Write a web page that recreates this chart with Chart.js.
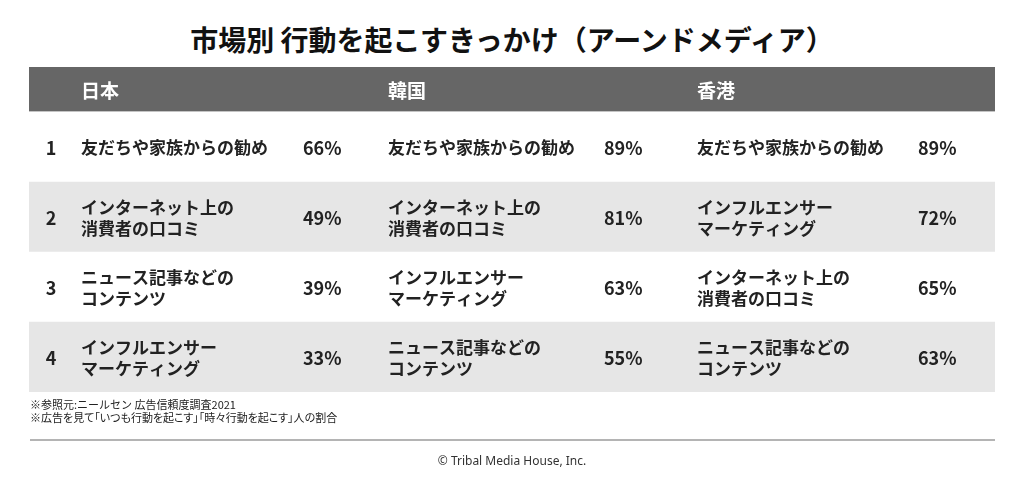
<!DOCTYPE html>
<html lang="ja">
<head>
<meta charset="utf-8">
<script src="https://cdn.jsdelivr.net/npm/chart.js@4.4.1/dist/chart.umd.min.js"></script>
<style>
  body { margin: 0; background: #fff; width: 1024px; height: 477px; overflow: hidden; position: relative;
         font-family: "Noto Sans CJK JP", sans-serif; color: #222; }
  #title { position: absolute; left: 0; top: 20px; width: 1024px; text-align: center;
           font-size: 28px; font-weight: 700; line-height: 38px; color: #111; }
  #chart { position: absolute; left: 0; top: 0; }
  .note { position: absolute; left: 30px; font-size: 11px; line-height: 13px; }
  #rule { position: absolute; left: 30px; width: 965px; top: 439px; height: 2px; background: #b4b4b4; }
  #copy { position: absolute; left: 0; width: 1024px; text-align: center; top: 452px;
          font: 12px "Noto Sans", sans-serif; color: #333; }
</style>
</head>
<body>
<div id="title">市場別 行動を起こすきっかけ（アーンドメディア）</div>
<canvas id="chart" width="1024" height="477"></canvas>
<div class="note" style="top:398px">※参照元:ニールセン 広告信頼度調査2021</div>
<div class="note" style="top:411px;font-feature-settings:'palt'">※広告を見て「いつも行動を起こす」「時々行動を起こす」人の割合</div>
<div id="rule"></div>
<div id="copy">© Tribal Media House, Inc.</div>

<script>
// --- data ---
const ranks = ['1', '2', '3', '4'];
const markets = ['日本', '韓国', '香港'];

const japanItems = ['友だちや家族からの勧め', 'インターネット上の\n消費者の口コミ', 'ニュース記事などの\nコンテンツ', 'インフルエンサー\nマーケティング'];
const japanValues = [66, 49, 39, 33];

const koreaItems = ['友だちや家族からの勧め', 'インターネット上の\n消費者の口コミ', 'インフルエンサー\nマーケティング', 'ニュース記事などの\nコンテンツ'];
const koreaValues = [89, 81, 63, 55];

const hongkongItems = ['友だちや家族からの勧め', 'インフルエンサー\nマーケティング', 'インターネット上の\n消費者の口コミ', 'ニュース記事などの\nコンテンツ'];
const hongkongValues = [89, 72, 65, 63];

const itemsByMarket = [japanItems, koreaItems, hongkongItems];
const valuesByMarket = [japanValues, koreaValues, hongkongValues];

// column offsets from the left edge of the table
const cols = [
  { item: 52, pct: 274 },
  { item: 359, pct: 575 },
  { item: 668, pct: 889 }
];
const HEADER_H = 45;
const FONT = '"Noto Sans CJK JP", sans-serif';

// draws header band + every cell text, rows placed by the y scale
const tablePlugin = {
  id: 'tableText',
  afterDatasetsDraw(chart) {
    const { ctx, chartArea: a, scales: { y } } = chart;
    ctx.save();

    // header band
    ctx.fillStyle = '#666666';
    ctx.fillRect(a.left, a.top - HEADER_H, a.right - a.left, HEADER_H);
    ctx.fillStyle = '#c4c4c4';
    ctx.fillRect(a.left, a.top - 1, a.right - a.left, 1);

    ctx.textBaseline = 'middle';
    ctx.fillStyle = '#ffffff';
    ctx.font = `bold 19px ${FONT}`;
    ctx.textAlign = 'left';
    markets.forEach((m, i) => ctx.fillText(m, a.left + cols[i].item, a.top - HEADER_H / 2 + 1));

    ctx.fillStyle = '#222222';
    ranks.forEach((r, row) => {
      const cy = y.getPixelForValue(row) + 1;
      ctx.font = `bold 18px ${FONT}`;
      ctx.textAlign = 'center';
      ctx.fillText(r, a.left + 22, cy);

      itemsByMarket.forEach((items, i) => {
        const lines = items[row].split('\n');
        ctx.font = `bold 17px ${FONT}`;
        ctx.textAlign = 'left';
        lines.forEach((ln, k) => {
          const off = (k - (lines.length - 1) / 2) * 21;
          ctx.fillText(ln, a.left + cols[i].item, cy + off);
        });
        ctx.font = `bold 18px ${FONT}`;
        ctx.fillText(valuesByMarket[i][row] + '%', a.left + cols[i].pct, cy);
      });
    });
    ctx.restore();
  }
};

new Chart(document.getElementById('chart'), {
  type: 'bar',
  data: {
    labels: ranks,
    datasets: [{
      data: ranks.map(() => [0, 1]),
      backgroundColor: ranks.map((_, i) => (i % 2 ? '#e6e6e6' : '#ffffff')),
      borderWidth: 0,
      barPercentage: 1,
      categoryPercentage: 1
    }]
  },
  options: {
    indexAxis: 'y',
    responsive: false,
    devicePixelRatio: 1,
    animation: false,
    layout: { padding: { left: 29, right: 29, top: 112, bottom: 85 } },
    scales: {
      x: { type: 'linear', min: 0, max: 1, display: false },
      y: { type: 'category', display: false }
    },
    plugins: { legend: { display: false }, tooltip: { enabled: false }, title: { display: false } }
  },
  plugins: [tablePlugin]
});
</script>
</body>
</html>
